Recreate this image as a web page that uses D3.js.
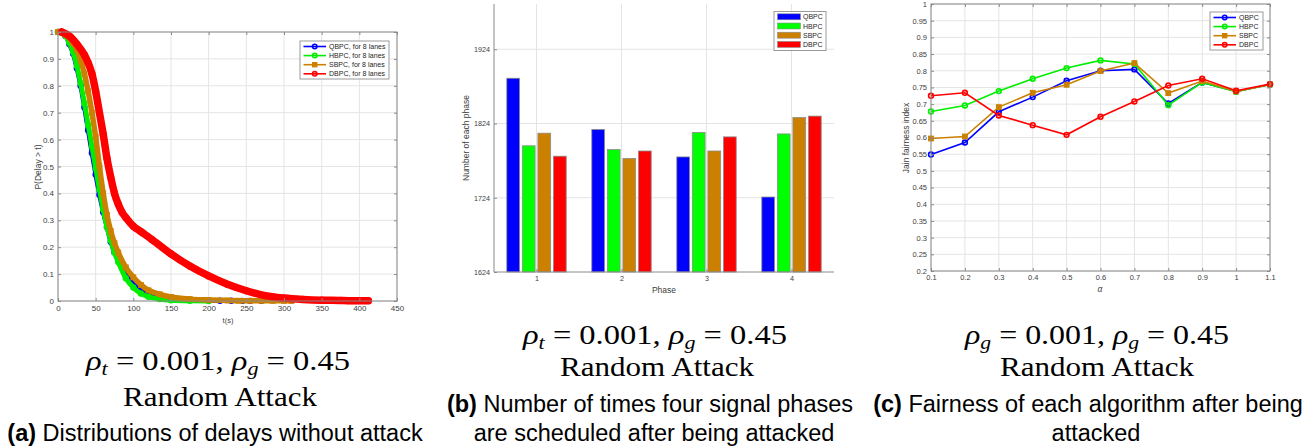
<!DOCTYPE html>
<html lang="en">
<head>
<meta charset="UTF-8">
<title>Delay / phases / fairness</title>
<style>
  body { margin: 0; background: #fff; }
  svg { display: block; }
  .tick text { fill: #404040; font-family: "Liberation Sans", Arial, sans-serif; }
  .tick line { stroke: #8a8a8a; }
  .lab { fill: #404040; font-family: "Liberation Sans", Arial, sans-serif; font-size: 8.5px; }
  .leg { fill: #262626; font-family: "Liberation Sans", Arial, sans-serif; font-size: 7px; }
  .math { font-family: "Liberation Serif", "Times New Roman", serif; fill: #000; }
  .cap { font-family: "Liberation Sans", Arial, sans-serif; font-size: 23.5px; fill: #000; }
</style>
</head>
<body>
<script src="https://d3js.org/d3.v7.min.js"></script>
<script>
// ---- data: (a) delay distributions, P(Delay > t)
const seriesNames = ["QBPC", "HBPC", "SBPC", "DBPC"]
const seriesColors = ["#0000ff", "#00ee00", "#cc8000", "#ff0000"]

const tQ = [0, 10, 15, 20, 25, 30, 35, 40, 45, 50, 55, 60, 65, 70, 75, 80, 90, 100, 110, 120, 135, 150, 175, 200, 215, 230, 245, 255, 270]
const pQ = [1.0, 0.985, 0.955, 0.92, 0.865, 0.80, 0.72, 0.635, 0.55, 0.47, 0.395, 0.33, 0.275, 0.22, 0.18, 0.15, 0.10, 0.065, 0.042, 0.028, 0.015, 0.008, 0.004, 0.002, 0.001, 0.001, 0.0005, 0.0005, 0.0005]

const tH = [0, 10, 15, 20, 25, 30, 35, 40, 45, 50, 55, 60, 65, 70, 75, 80, 90, 100, 110, 120, 135, 150, 175, 200]
const pH = [1.0, 0.985, 0.96, 0.925, 0.875, 0.81, 0.735, 0.655, 0.575, 0.495, 0.415, 0.34, 0.275, 0.225, 0.18, 0.145, 0.085, 0.05, 0.028, 0.016, 0.007, 0.003, 0.001, 0]

const tS = [0, 10, 20, 25, 30, 35, 40, 45, 50, 55, 60, 65, 70, 75, 80, 90, 100, 110, 120, 135, 150, 175, 200, 225, 240, 255, 270, 285, 300, 310]
const pS = [1.0, 0.99, 0.96, 0.935, 0.895, 0.845, 0.78, 0.70, 0.61, 0.50, 0.40, 0.32, 0.26, 0.215, 0.18, 0.125, 0.088, 0.06, 0.04, 0.025, 0.015, 0.007, 0.004, 0.002, 0.001, 0.001, 0.001, 0.0005, 0.0005, 0.0005]

const tD = [5, 15, 25, 35, 40, 45, 50, 55, 60, 65, 70, 75, 80, 85, 90, 100, 110, 125, 150, 175, 200, 225, 250, 275, 300, 325, 350, 375, 385, 390, 395, 400, 412]
const pD = [1.0, 0.985, 0.955, 0.915, 0.885, 0.845, 0.78, 0.70, 0.62, 0.53, 0.46, 0.40, 0.36, 0.33, 0.31, 0.278, 0.258, 0.228, 0.175, 0.13, 0.093, 0.062, 0.038, 0.02, 0.011, 0.006, 0.003, 0.002, 0.001, 0.001, 0.001, 0.001, 0.001]

const ticksTa = [0, 50, 100, 150, 200, 250, 300, 350, 400, 450]
const ticksPa = [0, 0.1, 0.2, 0.3, 0.4, 0.5, 0.6, 0.7, 0.8, 0.9, 1]

// ---- data: (b) number of times each phase is scheduled
const phases = [1, 2, 3, 4]
const countsQ = [1885, 1816, 1779, 1725]
const countsH = [1794, 1789, 1812, 1810]
const countsS = [1811, 1777, 1787, 1832]
const countsD = [1780, 1787, 1806, 1834]
const ticksCount = [1624, 1724, 1824, 1924]

// ---- data: (c) Jain fairness vs alpha
const alphas = [0.1, 0.2, 0.3, 0.4, 0.5, 0.6, 0.7, 0.8, 0.9, 1, 1.1]
const fairQ = [0.549, 0.585, 0.677, 0.721, 0.770, 0.800, 0.804, 0.702, 0.765, 0.738, 0.759]
const fairH = [0.678, 0.696, 0.739, 0.776, 0.808, 0.831, 0.820, 0.697, 0.765, 0.737, 0.759]
const fairS = [0.597, 0.603, 0.691, 0.734, 0.758, 0.799, 0.823, 0.733, 0.769, 0.738, 0.759]
const fairD = [0.725, 0.734, 0.666, 0.637, 0.608, 0.662, 0.708, 0.756, 0.776, 0.740, 0.760]
const ticksFair = [0.2, 0.25, 0.3, 0.35, 0.4, 0.45, 0.5, 0.55, 0.6, 0.65, 0.7, 0.75, 0.8, 0.85, 0.9, 0.95, 1]

const svg = d3.select('body').append('svg')
  .attr('width', 1312)
  .attr('height', 448)

const gridColor = '#e4e4e4'
const axisColor = '#8a8a8a'

function drawGrid(x, y, xt, yt) {
  let g = svg.append('g')
  g.selectAll('.gx').data(xt).enter().append('line')
    .attr('x1', d => x(d)).attr('x2', d => x(d))
    .attr('y1', y.range()[0]).attr('y2', y.range()[1])
    .attr('stroke', gridColor)
  g.selectAll('.gy').data(yt).enter().append('line')
    .attr('y1', d => y(d)).attr('y2', d => y(d))
    .attr('x1', x.range()[0]).attr('x2', x.range()[1])
    .attr('stroke', gridColor)
}

function drawAxes(x, y, xt, yt, fs, fmtX, fmtY, box) {
  let [x0, x1] = x.range()
  let [y0, y1] = y.range()
  let ax = svg.append('g').attr('transform', `translate(0,${y0})`)
    .call(d3.axisBottom(x).tickValues(xt).tickFormat(fmtX).tickSize(-3).tickPadding(4))
  let ay = svg.append('g').attr('transform', `translate(${x0},0)`)
    .call(d3.axisLeft(y).tickValues(yt).tickFormat(fmtY).tickSize(-3).tickPadding(4))
  ;[ax, ay].forEach(a => {
    a.select('.domain').remove()
    a.selectAll('text').style('font-size', fs + 'px')
  })
  if (box) {
    let at = svg.append('g').attr('transform', `translate(0,${y1})`)
      .call(d3.axisTop(x).tickValues(xt).tickFormat('').tickSize(-3))
    let ar = svg.append('g').attr('transform', `translate(${x1},0)`)
      .call(d3.axisRight(y).tickValues(yt).tickFormat('').tickSize(-3))
    at.select('.domain').remove()
    ar.select('.domain').remove()
    svg.append('rect')
      .attr('x', x0).attr('y', y1)
      .attr('width', x1 - x0).attr('height', y0 - y1)
      .attr('fill', 'none').attr('stroke', axisColor)
  } else {
    svg.append('line').attr('x1', x0).attr('x2', x0).attr('y1', y0).attr('y2', y1).attr('stroke', axisColor)
    svg.append('line').attr('x1', x0).attr('x2', x1).attr('y1', y0).attr('y2', y0).attr('stroke', axisColor)
  }
}

function marker(g, i, cx, cy, r) {
  if (i == 2) {
    g.append('rect')
      .attr('x', cx - r).attr('y', cy - r)
      .attr('width', 2 * r).attr('height', 2 * r)
      .attr('fill', seriesColors[i]).attr('stroke', seriesColors[i])
  } else {
    g.append('circle')
      .attr('cx', cx).attr('cy', cy).attr('r', r)
      .attr('fill', 'none').attr('stroke', seriesColors[i]).attr('stroke-width', 1.6)
  }
}

function lineLegend(x0, y0, w, h, labels) {
  let g = svg.append('g')
  g.append('rect').attr('x', x0).attr('y', y0).attr('width', w).attr('height', h)
    .attr('fill', '#fff').attr('stroke', '#9a9a9a')
  labels.forEach((lab, i) => {
    let yy = y0 + 5.5 + i * 9.1
    g.append('line').attr('x1', x0 + 3.5).attr('x2', x0 + 26).attr('y1', yy).attr('y2', yy)
      .attr('stroke', seriesColors[i]).attr('stroke-width', 1.6)
    marker(g, i, x0 + 14.7, yy, 2.2)
    g.append('text').attr('class', 'leg').attr('x', x0 + 29).attr('y', yy + 2.5).text(lab)
  })
}

// ================= (a)
{
  let x = d3.scaleLinear().domain([0, 450]).range([58, 397])
  let y = d3.scaleLinear().domain([0, 1]).range([301, 32])
  drawGrid(x, y, ticksTa, ticksPa)

  let ts = [tQ, tH, tS, tD]
  let ps = [pQ, pH, pS, pD]
  let widths = [4.5, 5, 5.5, 7.5]
  let line = d3.line().x(d => x(d[0])).y(d => y(d[1])).curve(d3.curveMonotoneX)
  ts.forEach((t, i) => {
    let pts = t.map((v, k) => [v, ps[i][k]])
    let g = svg.append('g')
    g.append('path').datum(pts)
      .attr('d', line)
      .attr('fill', 'none')
      .attr('stroke', seriesColors[i])
      .attr('stroke-width', widths[i])
      .attr('stroke-linejoin', 'round')
      .attr('stroke-linecap', 'round')
    pts.forEach(p => marker(g, i, x(p[0]), y(p[1]), i == 3 ? 2.8 : 2.4))
  })

  drawAxes(x, y, ticksTa, ticksPa, 8, d3.format('d'), d3.format(''), true)
  svg.append('text').attr('class', 'lab').attr('text-anchor', 'middle')
    .attr('transform', 'translate(41,167) rotate(-90)').text('P(Delay > t)')
  svg.append('text').attr('class', 'lab').attr('text-anchor', 'middle')
    .attr('x', 228).attr('y', 323).style('font-size', '7.5px').text('t(s)')
  lineLegend(300, 41, 89, 38, seriesNames.map(s => s + ', for 8 lanes'))
}

// ================= (b)
{
  let x = d3.scaleLinear().domain([0.5, 4.5]).range([494, 834])
  let y = d3.scaleLinear().domain([1624, 1985]).range([272, 4])
  drawGrid(x, y, phases, ticksCount.slice(1))

  let counts = [countsQ, countsH, countsS, countsD]
  let bw = x(0.15) - x(0)
  counts.forEach((c, i) => {
    svg.append('g').selectAll('rect').data(c).enter().append('rect')
      .attr('x', (d, k) => x(phases[k] + (i - 1.5) * 0.183) - bw / 2)
      .attr('y', d => y(d))
      .attr('width', bw)
      .attr('height', d => y(1624) - y(d))
      .attr('fill', i == 1 ? '#00ff00' : seriesColors[i])
      .attr('stroke', '#8c8c8c')
      .attr('stroke-width', 0.8)
  })

  drawAxes(x, y, phases, ticksCount, 7.2, d3.format('d'), d3.format('d'), false)
  svg.append('text').attr('class', 'lab').attr('text-anchor', 'middle')
    .attr('transform', 'translate(469,138) rotate(-90)').text('Number of each phase')
  svg.append('text').attr('class', 'lab').attr('text-anchor', 'middle')
    .attr('x', 664).attr('y', 293).text('Phase')

  let lg = svg.append('g')
  lg.append('rect').attr('x', 774).attr('y', 11.5).attr('width', 52).attr('height', 39)
    .attr('fill', '#fff').attr('stroke', '#9a9a9a')
  seriesNames.forEach((s, i) => {
    let yy = 16.8 + i * 9.2
    lg.append('rect').attr('x', 777.5).attr('y', yy - 3).attr('width', 23).attr('height', 6)
      .attr('fill', i == 1 ? '#00ff00' : seriesColors[i]).attr('stroke', '#8c8c8c').attr('stroke-width', 0.6)
    lg.append('text').attr('class', 'leg').attr('x', 803).attr('y', yy + 2.5).text(s)
  })
}

// ================= (c)
{
  let x = d3.scaleLinear().domain([0.1, 1.1]).range([931, 1270])
  let y = d3.scaleLinear().domain([0.2, 1]).range([271, 4])
  drawGrid(x, y, alphas, ticksFair)

  let fair = [fairQ, fairH, fairS, fairD]
  let line = d3.line().x((d, k) => x(alphas[k])).y(d => y(d))
  fair.forEach((f, i) => {
    let g = svg.append('g')
    g.append('path').datum(f)
      .attr('d', line)
      .attr('fill', 'none')
      .attr('stroke', seriesColors[i])
      .attr('stroke-width', 1.6)
    f.forEach((v, k) => marker(g, i, x(alphas[k]), y(v), 2.4))
  })

  drawAxes(x, y, alphas, ticksFair, 7.5, d3.format(''), d3.format(''), true)
  svg.append('text').attr('class', 'lab').attr('text-anchor', 'middle')
    .attr('transform', 'translate(909,138) rotate(-90)').text('Jain fairness index')
  svg.append('text').attr('class', 'lab').attr('text-anchor', 'middle')
    .attr('x', 1100).attr('y', 292).style('font-style', 'italic').text('α')
  lineLegend(1210, 12, 53, 38, seriesNames)
}

// ================= captions
function mathLine(cx, by, sub1, width) {
  let t = svg.append('text').attr('class', 'math')
    .attr('x', cx).attr('y', by)
    .attr('text-anchor', 'middle')
    .style('font-size', '28px')
    .attr('textLength', width).attr('lengthAdjust', 'spacingAndGlyphs')
  t.append('tspan').style('font-style', 'italic').text('ρ')
  t.append('tspan').style('font-style', 'italic').style('font-size', '19px').attr('dy', 5).text(sub1)
  t.append('tspan').attr('dy', -5).text(' = 0.001, ')
  t.append('tspan').style('font-style', 'italic').text('ρ')
  t.append('tspan').style('font-style', 'italic').style('font-size', '19px').attr('dy', 5).text('g')
  t.append('tspan').attr('dy', -5).text(' = 0.45')
}
function attackLine(cx, by) {
  svg.append('text').attr('class', 'math')
    .attr('x', cx).attr('y', by).attr('text-anchor', 'middle')
    .style('font-size', '28px')
    .attr('textLength', 194).attr('lengthAdjust', 'spacingAndGlyphs')
    .text('Random Attack')
}
function caption(cx, by, tag, rest) {
  let t = svg.append('text').attr('class', 'cap')
    .attr('x', cx).attr('y', by).attr('text-anchor', 'middle')
  t.append('tspan').style('font-weight', 'bold').text(tag)
  t.append('tspan').text(rest)
}

mathLine(218, 370, 't', 264)
attackLine(220, 406)
caption(215, 441, '(a)', ' Distributions of delays without attack')

mathLine(655, 344, 't', 264)
attackLine(657, 376)
caption(650, 412, '(b)', ' Number of times four signal phases')
caption(654, 441, '', 'are scheduled after being attacked')

mathLine(1097, 344, 'g', 264)
attackLine(1097, 376)
caption(1088, 412, '(c)', ' Fairness of each algorithm after being')
caption(1096, 441, '', 'attacked')
</script>
</body>
</html>
